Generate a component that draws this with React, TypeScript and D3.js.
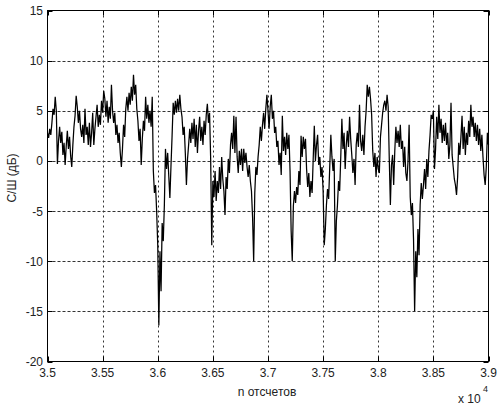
import React from "react";
import * as d3 from "d3";

const X_START = 35000;
const X_STEP = 10;
const SNR_DB: number[] = [
  2.8, 2.3, 3.2, 2.6, 3.8, 5.2, 4.6, 6.4, 5.0, -0.3,
  2.0, 3.4, 1.8, 2.9, 0.6, 1.8, -0.4, 1.5, 3.0, 1.2,
  2.4, 0.5, -0.6, 1.6, 3.4, 4.5, 6.5, 5.4, 3.8, 5.0,
  3.2, 2.4, 3.6, 1.8, 5.2, 2.6, 3.4, 1.6, 3.8, 1.4,
  2.8, 4.8, 1.6, 3.2, 4.4, 5.6, 3.4, 4.6, 3.6, 6.0,
  4.8, 7.0, 6.2, 4.4, 6.0, 3.8, 5.4, 4.2, 7.6, 5.0,
  3.8, 4.8, 2.6, 3.6, 1.8, 2.8, 0.8, -0.6, 1.2, 3.6,
  2.4, 5.2, 6.4, 5.0, 6.8, 5.6, 7.4, 6.0, 8.6, 6.6,
  7.6, 5.2, 4.0, 2.0, 3.2, -0.4, 2.2, 4.0, 3.0, 6.4,
  4.2, 5.6, 3.8, 5.0, 3.4, 6.4, -1.0, -3.2, -2.4, -5.0,
  -8.4, -16.4, -9.0, -13.0, -6.2, -8.0, -4.4, 1.2, -0.8, 0.8,
  -1.5, -3.7, -0.5, 2.5, 5.8, 4.6, 6.0, 4.8, 6.2, 5.0,
  6.6, 5.2, 4.4, 2.6, 3.4, 0.8, -2.4, 0.2, 1.6, 3.2,
  1.8, 3.8, 2.2, 4.2, 1.4, 3.6, 0.8, 3.0, 4.4, 2.0,
  3.4, 1.6, 4.0, 2.6, 4.6, 5.7, 3.8, 4.8, 0.2, -8.4,
  -2.0, -3.6, -1.0, -4.0, -2.0, -3.2, -0.6, -2.8, 0.4, -1.8,
  -3.0, -5.4, -1.6, -2.8, 0.2, -1.2, 1.6, 2.8, 1.2, 4.5,
  0.8, 4.4, 0.4, -1.2, 1.0, -0.4, 1.2, -1.0, 1.2, -0.2,
  0.8, -0.6, -1.6, -0.4, -2.0, -3.0, -5.6, -10.0, -3.2, -0.6,
  -1.4, 0.4, 1.6, 3.4, 2.0, 3.6, 4.8, 3.2, 5.2, 6.6,
  5.0, 3.2, 5.4, 6.6, 4.2, 5.0, 2.8, 3.4, 1.4, 2.0,
  -0.4, 0.8, -1.4, 4.5, 1.0, 2.4, 0.6, 2.8, 1.2, 2.6,
  -1.0, -7.0, -10.0, -4.5, -3.0, -4.2, -2.6, -3.4, -1.0, -2.4,
  2.5, 0.4, 2.4, 1.2, 2.2, -0.8, -2.6, -1.2, -3.6, -2.0,
  -3.2, 0.2, 3.5, 0.0, 1.6, 2.6, -0.4, 0.4, -1.6, -0.6,
  -3.0, -8.4, -6.8, -4.4, -2.8, -3.8, -0.6, 2.6, 0.4, -1.0,
  0.2, -10.0, -6.0, -4.4, -2.0, -3.0, 0.4, 4.2, 1.2, 2.8,
  -0.8, 1.6, 3.0, 1.4, 4.4, 2.2, 0.6, -1.2, 0.2, -2.4,
  1.6, 2.8, 1.4, 5.6, 2.0, 1.0, 2.6, 0.6, 3.4, 5.0,
  7.6, 6.4, 7.4, 6.2, 4.6, 1.0, -0.6, 0.8, -1.6, 0.4,
  -0.8, -1.2, 2.4, 3.6, 4.8, 5.6, 6.0, 5.0, 6.6, 5.4,
  0.2, -4.4, -0.4, 0.6, -2.4, 1.0, 3.4, 1.8, 3.0, 1.4,
  3.6, 1.2, 2.0, -0.6, 1.4, -1.2, -2.0, 0.0, 3.6, -3.6,
  -5.4, -4.2, -7.8, -15.0, -9.0, -11.6, -6.8, -9.4, -4.4, -2.2,
  -3.8, -2.4, -0.8, -2.8, 0.2, -1.6, 1.0, 2.6, 4.6, 4.2,
  5.0, -0.8, 1.2, 4.4, 2.2, 5.6, 2.8, 4.2, 1.8, 3.6,
  2.0, 3.8, 1.6, 2.8, 0.2, 1.6, 5.8, 0.6, -0.6, -1.8,
  -2.4, -3.4, -1.6, 1.8, 0.6, 2.4, 4.5, 1.2, 3.4, 0.6,
  2.8, 1.6, 4.0, 2.4, 5.6, 3.4, 4.4, 2.4, 3.8, 2.0,
  3.6, 1.6, 3.2, 1.0, 2.6, 0.4, -1.4, -2.4, -0.6, 2.8,
  1.6,
];

const X_TICKS = [35000, 35500, 36000, 36500, 37000, 37500, 38000, 38500, 39000];
const X_TICK_LABELS = ["3.5", "3.55", "3.6", "3.65", "3.7", "3.75", "3.8", "3.85", "3.9"];
const Y_TICKS = [-20, -15, -10, -5, 0, 5, 10, 15];
const Y_TICK_LABELS = ["-20", "-15", "-10", "-5", "0", "5", "10", "15"];
const X_LABEL = "n отсчетов";
const Y_LABEL = "С/Ш (дБ)";
const EXP_BASE = "x 10";
const EXP_POWER = "4";

const W = 502;
const H = 407;
const L = 47.5;
const R = 488.5;
const T = 10.5;
const B = 361.5;
const FONT = "'Liberation Sans', Arial, Helvetica, sans-serif";

export default function App() {
  const x = d3.scaleLinear().domain([35000, 39000]).range([L, R]);
  const y = d3.scaleLinear().domain([-20, 15]).range([B, T]);
  const pts: [number, number][] = SNR_DB.map((v, i) => [X_START + i * X_STEP, v]);
  const line = d3
    .line<[number, number]>()
    .x((d) => x(d[0]))
    .y((d) => y(d[1]));
  const tickLen = 5;
  return (
    <svg
      width={W}
      height={H}
      style={{ position: "absolute", left: 0, top: 0, background: "#fff" }}
      fontFamily={FONT}
    >
      <rect x={0} y={0} width={W} height={H} fill="#fff" />
      {X_TICKS.slice(1, -1).map((t) => (
        <line
          key={"gx" + t}
          x1={Math.round(x(t)) + 0.5}
          x2={Math.round(x(t)) + 0.5}
          y1={T}
          y2={B}
          stroke="#333"
          strokeWidth={1}
          strokeDasharray="2,3"
        />
      ))}
      {Y_TICKS.slice(1, -1).map((t) => (
        <line
          key={"gy" + t}
          x1={L}
          x2={R}
          y1={Math.round(y(t)) + 0.5}
          y2={Math.round(y(t)) + 0.5}
          stroke="#333"
          strokeWidth={1}
          strokeDasharray="3,2"
        />
      ))}
      <path d={line(pts) || ""} fill="none" stroke="#000" strokeWidth={1.25} strokeLinejoin="miter" />
      {X_TICKS.map((t) => (
        <g key={"tx" + t}>
          <line x1={Math.round(x(t)) + 0.5} x2={Math.round(x(t)) + 0.5} y1={B} y2={B - tickLen} stroke="#000" />
          <line x1={Math.round(x(t)) + 0.5} x2={Math.round(x(t)) + 0.5} y1={T} y2={T + tickLen} stroke="#000" />
        </g>
      ))}
      {Y_TICKS.map((t) => (
        <g key={"ty" + t}>
          <line x1={L} x2={L + tickLen} y1={Math.round(y(t)) + 0.5} y2={Math.round(y(t)) + 0.5} stroke="#000" />
          <line x1={R} x2={R - tickLen} y1={Math.round(y(t)) + 0.5} y2={Math.round(y(t)) + 0.5} stroke="#000" />
        </g>
      ))}
      <rect x={L} y={T} width={R - L} height={B - T} fill="none" stroke="#000" strokeWidth={1} />
      {X_TICKS.map((t, i) => (
        <text key={"lx" + t} x={x(t)} y={377} textAnchor="middle" fontSize={12} fill="#222">
          {X_TICK_LABELS[i]}
        </text>
      ))}
      {Y_TICKS.map((t, i) => (
        <text key={"ly" + t} x={43} y={y(t) + 4.5} textAnchor="end" fontSize={12} fill="#222">
          {Y_TICK_LABELS[i]}
        </text>
      ))}
      <text x={267} y={396} textAnchor="middle" fontSize={12} fill="#222">
        {X_LABEL}
      </text>
      <text x={458} y={403} fontSize={12} fill="#222">
        {EXP_BASE}
      </text>
      <text x={483} y={392} fontSize={9} fill="#222">
        {EXP_POWER}
      </text>
      <text
        transform="translate(16,178) rotate(-90)"
        textAnchor="middle"
        fontSize={12}
        fill="#222"
      >
        {Y_LABEL}
      </text>
    </svg>
  );
}
